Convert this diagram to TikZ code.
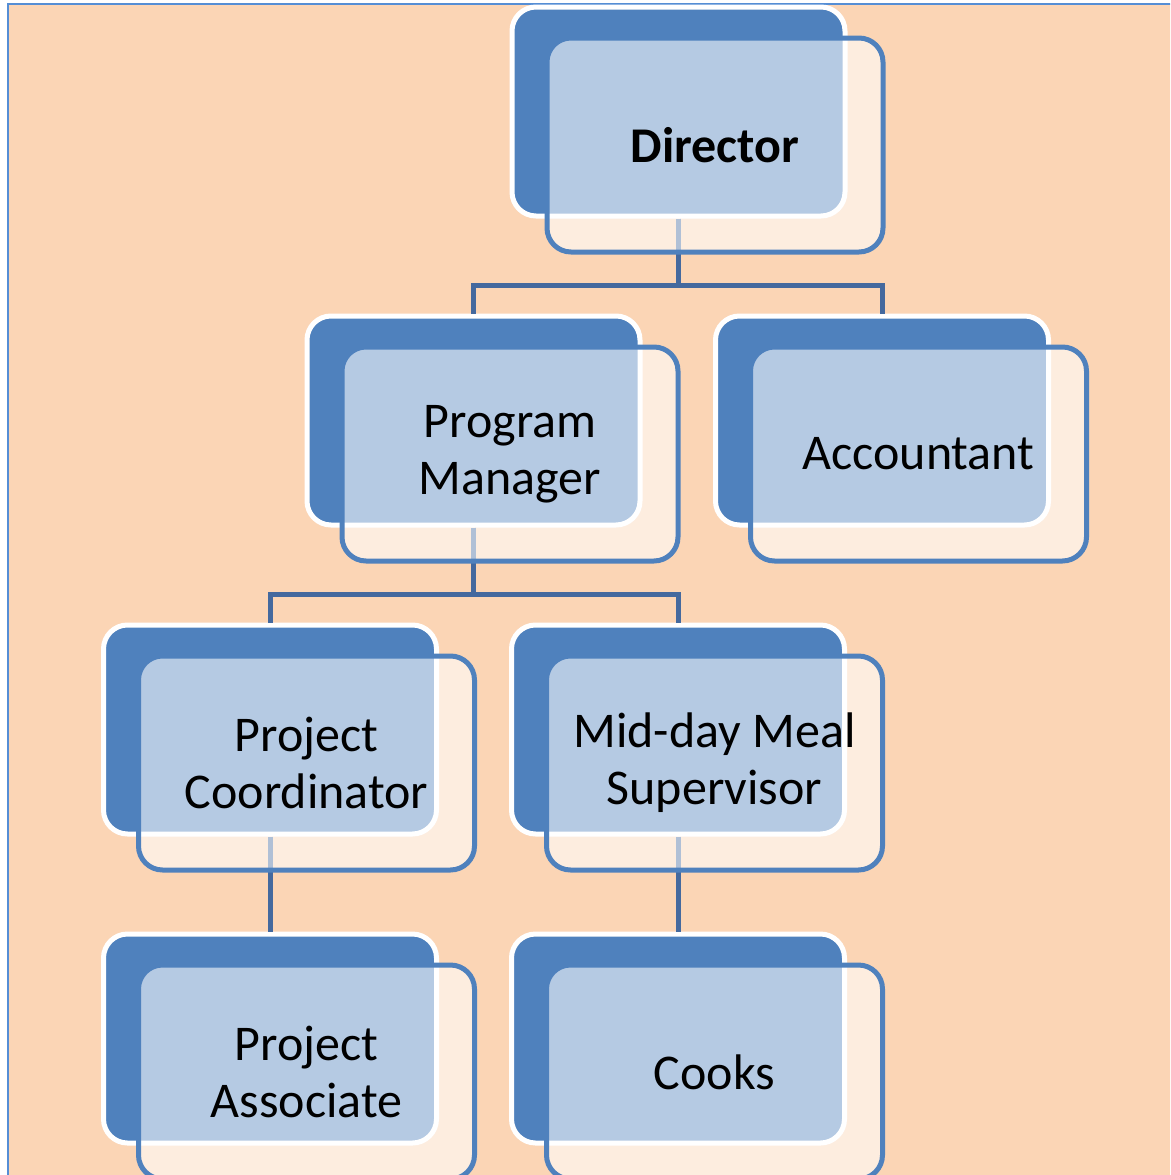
\documentclass[tikz,border=0pt]{standalone}
\usepackage{fontspec}
\setmainfont{Carlito}
\usepackage{tikz}
\usetikzlibrary{positioning}

\definecolor{peach}{HTML}{FBD5B5}
\definecolor{boxblue}{HTML}{4F81BD}
\definecolor{linkblue}{HTML}{44699E}
\definecolor{rimblue}{HTML}{558ED5}

\tikzset{
  backbox/.style={rectangle, rounded corners=24pt, fill=boxblue, draw=white,
    line width=5pt, minimum width=333pt, minimum height=209pt},
  frontbox/.style={rectangle, rounded corners=24pt, fill=white, fill opacity=0.58,
    text opacity=1, draw=boxblue, draw opacity=1, line width=5pt,
    minimum width=336pt, minimum height=214pt, align=center,
    font=\fontsize{50}{57}\selectfont, xshift=36.5pt, yshift=-33.5pt},
  link/.style={draw=linkblue, line width=5pt}
}

\begin{document}
\begin{tikzpicture}[x=1pt, y=-1pt]
  \useasboundingbox (0,0) rectangle (1170,1175);
  \clip (0,0) rectangle (1170,1175);
  \fill[peach] (8,4) rectangle (1172,1177);
  \draw[rimblue, line width=2pt] (8,1177) -- (8,4) -- (1172,4);

  % back layers
  \node[backbox] (dirb) at (678.5,111.5) {};
  \node[backbox] (pmb)  at (473.5,420.5) {};
  \node[backbox] (accb) at (882,420.5) {};
  \node[backbox] (pcb)  at (270,729.5) {};
  \node[backbox] (mmb)  at (678,729.5) {};
  \node[backbox] (pab)  at (270,1038.5) {};
  \node[backbox] (cob)  at (678,1038.5) {};

  % links
  \draw[link] (dirb.south) -- ++(0,67) -| (pmb.north);
  \draw[link] (dirb.south) -- ++(0,67) -| (accb.north);
  \draw[link] (pmb.south) -- ++(0,67) -| (pcb.north);
  \draw[link] (pmb.south) -- ++(0,67) -| (mmb.north);
  \draw[link] (pcb.south) -- (pab.north);
  \draw[link] (mmb.south) -- (cob.north);

  % front layers
  \node[frontbox] (dir) at (dirb) {\textbf{Director}};
  \node[frontbox] (pm)  at (pmb)  {Program\\Manager};
  \node[frontbox] (acc) at (accb) {Accountant};
  \node[frontbox] (pc)  at (pcb)  {Project\\Coordinator};
  \node[frontbox] (mm)  at (mmb)  {Mid-day Meal\\Supervisor};
  \node[frontbox] (pa)  at (pab)  {Project\\Associate};
  \node[frontbox] (co)  at (cob)  {Cooks};
\end{tikzpicture}
\end{document}
